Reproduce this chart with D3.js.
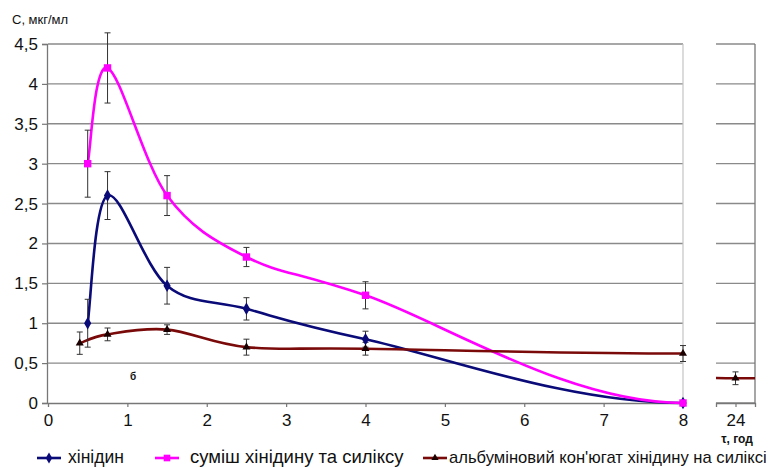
<!DOCTYPE html>
<html>
<head>
<meta charset="utf-8">
<script src="https://cdn.jsdelivr.net/npm/d3@7"></script>
<style>
  body { margin: 0; background: #fff; }
  text { font-family: "Liberation Sans", Arial, sans-serif; fill: #111; }
</style>
</head>
<body>
<div id="chart"></div>
<script>
// time points, h
const times = [0.5, 0.75, 1.5, 2.5, 4, 8];
const conjTimes = [0.4, 0.75, 1.5, 2.5, 4, 8];
const lateTimes = [24];

// concentrations, mkg/ml
const quinidine = [1.0, 2.6, 1.47, 1.18, 0.8, 0];
const quinidineErr = [0.3, 0.3, 0.23, 0.14, 0.1, 0];
const mixture = [3.0, 4.2, 2.6, 1.83, 1.35, 0];
const mixtureErr = [0.42, 0.44, 0.25, 0.12, 0.17, 0];
const conjugate = [0.75, 0.86, 0.92, 0.7, 0.68, 0.62];
const conjugateErr = [0.14, 0.08, 0.06, 0.1, 0.08, 0.1];
const lateConjugate = [0.31];
const lateConjugateErr = [0.08];

const yTicks = [0, 0.5, 1, 1.5, 2, 2.5, 3, 3.5, 4, 4.5];
const yTickLabels = ["0", "0,5", "1", "1,5", "2", "2,5", "3", "3,5", "4", "4,5"];
const xTicks = [0, 1, 2, 3, 4, 5, 6, 7, 8];
const lateTicks = [24];
const seriesNames = ["хінідин", "суміш хінідину та силіксу", "альбуміновий кон'югат хінідину на силіксі"];

const width = 774, height = 468;
const svg = d3.select('#chart').append('svg')
    .attr('width', width)
    .attr('height', height);

// scales
const y = d3.scaleLinear().domain([0, 4.5]).range([403, 44]);
const x = d3.scaleLinear().domain([0, 8]).range([48, 683]);
const x2 = d3.scaleLinear().domain([22.5, 25.5]).range([716, 755]);

const gridColor = '#8a8a8a';

// grid - main panel
svg.append('g')
    .selectAll('line')
    .data(yTicks.slice(1))
    .join('line')
    .attr('x1', x(0)).attr('x2', x(8))
    .attr('y1', d => y(d)).attr('y2', d => y(d))
    .style('stroke', gridColor)
    .style('stroke-width', 1.4);

// grid - late panel
svg.append('g')
    .selectAll('line')
    .data(yTicks)
    .join('line')
    .attr('x1', x2.range()[0]).attr('x2', x2.range()[1])
    .attr('y1', d => y(d)).attr('y2', d => y(d))
    .style('stroke', gridColor)
    .style('stroke-width', 1.4);

// right border of main plot area
svg.append('line')
    .attr('x1', x(8)).attr('x2', x(8))
    .attr('y1', y(4.5)).attr('y2', y(0))
    .style('stroke', '#c4c4c4')
    .style('stroke-width', 1.2);

// right axis line of late panel
svg.append('line')
    .attr('x1', x2.range()[1]).attr('x2', x2.range()[1])
    .attr('y1', y(4.5)).attr('y2', y(0))
    .style('stroke', '#777')
    .style('stroke-width', 1.3);

// axes
const yAxis = d3.axisLeft(y)
    .tickValues(yTicks)
    .tickFormat((d, i) => yTickLabels[i])
    .tickSize(5)
    .tickPadding(4);

const xAxis = d3.axisBottom(x)
    .tickValues(xTicks)
    .tickFormat(d3.format('d'))
    .tickSize(4)
    .tickPadding(7);

const x2Axis = d3.axisBottom(x2)
    .tickValues(lateTicks)
    .tickFormat(d3.format('d'))
    .tickSize(4)
    .tickPadding(7);

svg.append('g')
    .attr('class', 'y-axis')
    .attr('transform', `translate(${x(0) - 1}, 0)`)
    .call(yAxis);

svg.append('g')
    .attr('class', 'x-axis')
    .attr('transform', `translate(0, ${y(0)})`)
    .call(xAxis);

svg.append('g')
    .attr('class', 'x-axis')
    .attr('transform', `translate(0, ${y(0)})`)
    .call(x2Axis);

svg.selectAll('.domain')
    .style('stroke', '#777')
    .style('stroke-width', 1.3);
svg.selectAll('.tick line')
    .style('stroke', '#777')
    .style('stroke-width', 1.2);
svg.selectAll('.y-axis text, .x-axis text')
    .style('font-size', '17px');
svg.selectAll('.x-axis .tick').filter(d => d === 0).select('line').style('display', 'none');

// axis titles
svg.append('text')
    .attr('x', 12).attr('y', 24)
    .style('font-size', '13px')
    .text('С, мкг/мл');

svg.append('text')
    .attr('x', 737).attr('y', 443)
    .attr('text-anchor', 'middle')
    .style('font-size', '12px')
    .style('font-weight', 'bold')
    .text('τ, год');

// panel letter
svg.append('text')
    .attr('x', 133).attr('y', 380)
    .attr('text-anchor', 'middle')
    .style('font-size', '10px')
    .style('font-weight', 'bold')
    .text('б');

// smoothed line: Catmull-Rom inside, flat finish at the last point (like the spreadsheet smoothing)
function smoothPath(pxPts) {
    const n = pxPts.length;
    const tan = pxPts.map((p, i) => {
        if (i === 0) return [pxPts[1][0] - p[0], pxPts[1][1] - p[1]];
        if (i === n - 1) return [(p[0] - pxPts[i - 1][0]) * 2.2, 0];
        return [pxPts[i + 1][0] - pxPts[i - 1][0], pxPts[i + 1][1] - pxPts[i - 1][1]];
    });
    const path = d3.path();
    path.moveTo(pxPts[0][0], pxPts[0][1]);
    for (let i = 0; i < n - 1; i++) {
        const a = pxPts[i], b = pxPts[i + 1];
        path.bezierCurveTo(
            a[0] + tan[i][0] / 6, a[1] + tan[i][1] / 6,
            b[0] - tan[i + 1][0] / 6, b[1] - tan[i + 1][1] / 6,
            b[0], b[1]);
    }
    return path.toString();
}

const makePoints = (ts, vs, es) => ts.map((t, i) => ({ t: t, v: vs[i], e: es[i] }));

const series = [
    { pts: makePoints(times, quinidine, quinidineErr), color: '#0a0a78', marker: d3.symbolDiamond, size: 45, mfill: '#0a0a78' },
    { pts: makePoints(times, mixture, mixtureErr), color: '#ff00ff', marker: d3.symbolSquare, size: 55, mfill: '#ff00ff' },
    { pts: makePoints(conjTimes, conjugate, conjugateErr), color: '#7a0a0a', marker: d3.symbolTriangle, size: 28, mfill: '#1a0000' }
];

series.forEach(s => {
    svg.append('path')
        .attr('d', smoothPath(s.pts.map(d => [x(d.t), y(d.v)])))
        .style('fill', 'none')
        .style('stroke', s.color)
        .style('stroke-width', 2.6);
});

// late panel line (clipped continuation from 8 h)
svg.append('clipPath').attr('id', 'lateClip')
    .append('rect')
    .attr('x', x2.range()[0]).attr('y', 0)
    .attr('width', x2.range()[1] - x2.range()[0]).attr('height', height);

const lastConj = series[2].pts[series[2].pts.length - 1];
const latePts = [lastConj].concat(makePoints(lateTimes, lateConjugate, lateConjugateErr));
const lateLine = d3.line()
    .x(d => x2(d.t))
    .y(d => y(d.v))
    .curve(d3.curveMonotoneX);

svg.append('path')
    .datum(latePts.concat([{ t: x2.domain()[1], v: lateConjugate[lateConjugate.length - 1] }]))
    .attr('d', lateLine)
    .attr('clip-path', 'url(#lateClip)')
    .style('fill', 'none')
    .style('stroke', series[2].color)
    .style('stroke-width', 2.4);

// error bars + markers
function drawErrors(pts, xs) {
    const g = svg.append('g');
    const bars = pts.filter(d => d.e > 0);
    g.selectAll('line.v')
        .data(bars)
        .join('line')
        .attr('x1', d => xs(d.t)).attr('x2', d => xs(d.t))
        .attr('y1', d => y(d.v + d.e)).attr('y2', d => y(d.v - d.e))
        .style('stroke', '#333')
        .style('stroke-width', 1);
    [1, -1].forEach(sgn => {
        g.selectAll(null)
            .data(bars)
            .join('line')
            .attr('x1', d => xs(d.t) - 3).attr('x2', d => xs(d.t) + 3)
            .attr('y1', d => y(d.v + sgn * d.e)).attr('y2', d => y(d.v + sgn * d.e))
            .style('stroke', '#333')
            .style('stroke-width', 1);
    });
}

function drawMarkers(pts, xs, s) {
    svg.append('g')
        .selectAll('path')
        .data(pts)
        .join('path')
        .attr('transform', d => `translate(${xs(d.t)}, ${y(d.v)})`)
        .attr('d', d3.symbol().type(s.marker).size(s.size))
        .style('fill', s.mfill);
}

series.forEach(s => drawErrors(s.pts, x));
series.forEach(s => drawMarkers(s.pts, x, s));

const lateOnly = makePoints(lateTimes, lateConjugate, lateConjugateErr);
drawErrors(lateOnly, x2);
drawMarkers(lateOnly, x2, series[2]);

// legend
const legendX = [37, 155, 423];
const legendTextX = [68, 190, 449];
const legendTextW = [56, 214, 318];
const legend = svg.append('g').attr('transform', 'translate(0, 458)');
series.forEach((s, i) => {
    legend.append('line')
        .attr('x1', legendX[i]).attr('x2', legendX[i] + 24)
        .style('stroke', s.color)
        .style('stroke-width', 2.6);
    legend.append('path')
        .attr('transform', `translate(${legendX[i] + 12}, 0)`)
        .attr('d', d3.symbol().type(s.marker).size(s.size * 0.8))
        .style('fill', s.mfill);
    const t = legend.append('text')
        .attr('x', legendTextX[i]).attr('y', 5)
        .style('font-size', '16px')
        .text(seriesNames[i]);
    const w = t.node().getComputedTextLength();
    t.style('font-size', (16 * legendTextW[i] / w).toFixed(1) + 'px');
});
</script>
</body>
</html>
